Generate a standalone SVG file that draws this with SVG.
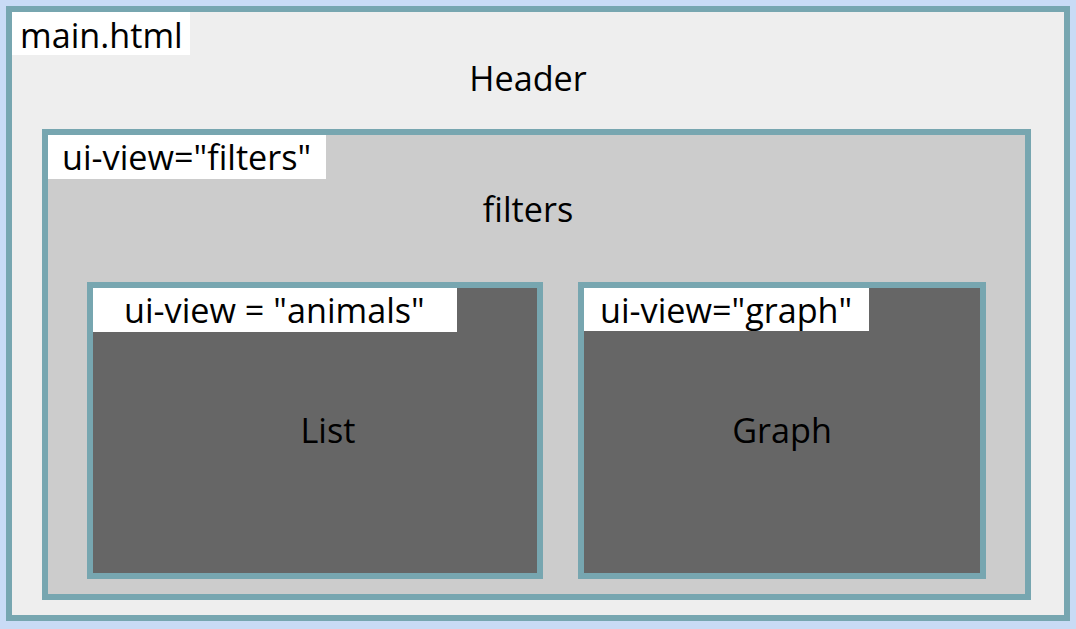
<svg xmlns="http://www.w3.org/2000/svg" width="1076" height="629" viewBox="0 0 1076 629">
<style>
.box{stroke:#77a6b0;stroke-width:6}
.lbl{fill:#ffffff}
text{font-family:"Open Sans","Noto Sans",sans-serif;font-size:34.2px;fill:#000}
.c{text-anchor:middle}
</style>
<rect x="0" y="0" width="1076" height="629" fill="#c9dbf5"/>
<g id="main">
<rect class="box" x="9" y="9" width="1058" height="609" fill="#eeeeee"/>
<rect class="lbl" x="12" y="12" width="178" height="43"/>
<text x="20" y="48">main.html</text>
<text class="c" x="528" y="91">Header</text>
</g>
<g id="filters">
<rect class="box" x="45" y="132" width="983" height="465" fill="#cccccc"/>
<rect class="lbl" x="48" y="135" width="278" height="44"/>
<text x="62" y="170">ui-view="filters"</text>
<text class="c" x="528" y="222">filters</text>
</g>
<g id="animals">
<rect class="box" x="90" y="285" width="450" height="291" fill="#666666"/>
<rect class="lbl" x="93" y="288" width="364" height="44"/>
<text x="124" y="323">ui-view = "animals"</text>
<text class="c" x="328" y="443">List</text>
</g>
<g id="graph">
<rect class="box" x="581" y="285" width="402" height="291" fill="#666666"/>
<rect class="lbl" x="584" y="288" width="285" height="43"/>
<text x="600" y="323">ui-view="graph"</text>
<text class="c" x="782" y="443">Graph</text>
</g>
<g id="connectors"/>
</svg>
